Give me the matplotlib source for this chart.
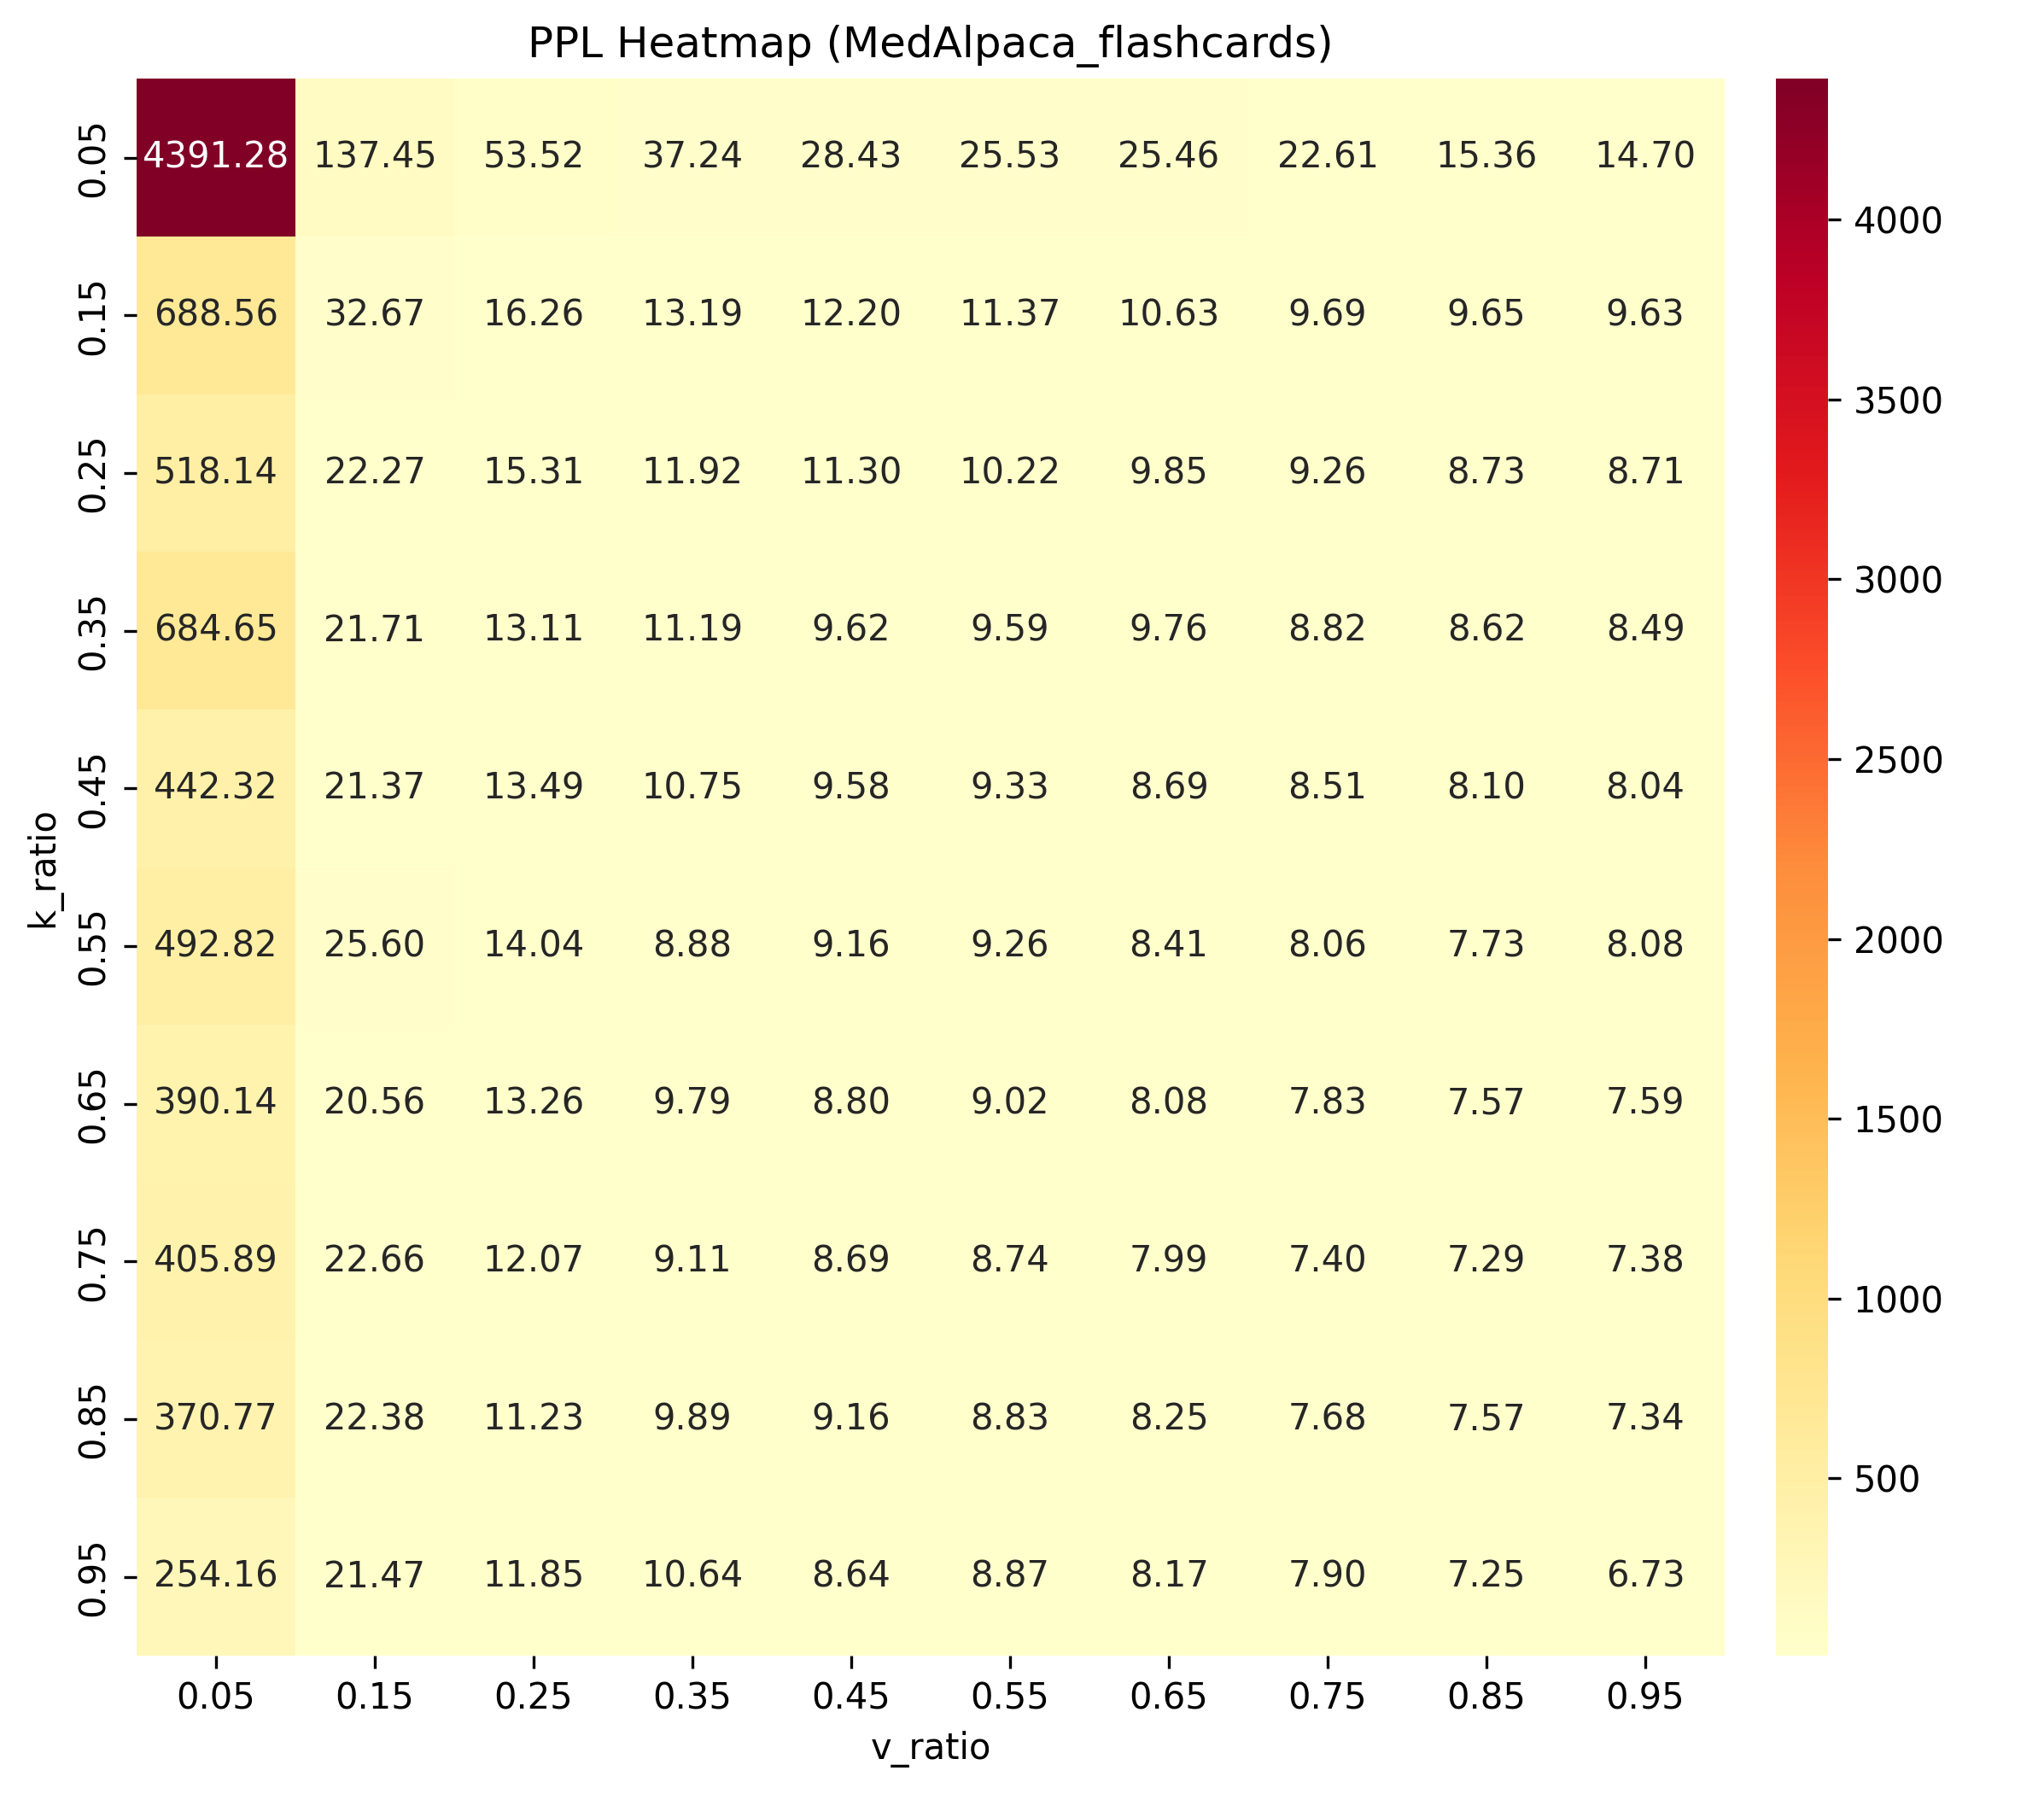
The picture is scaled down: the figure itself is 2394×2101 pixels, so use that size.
import matplotlib
matplotlib.use("Agg")
import matplotlib.pyplot as plt
import seaborn as sns
import numpy as np

k_ratio = ["0.05", "0.15", "0.25", "0.35", "0.45", "0.55", "0.65", "0.75", "0.85", "0.95"]
v_ratio = ["0.05", "0.15", "0.25", "0.35", "0.45", "0.55", "0.65", "0.75", "0.85", "0.95"]

row_005 = [4391.28, 137.45, 53.52, 37.24, 28.43, 25.53, 25.46, 22.61, 15.36, 14.70]
row_015 = [688.56, 32.67, 16.26, 13.19, 12.20, 11.37, 10.63, 9.69, 9.65, 9.63]
row_025 = [518.14, 22.27, 15.31, 11.92, 11.30, 10.22, 9.85, 9.26, 8.73, 8.71]
row_035 = [684.65, 21.71, 13.11, 11.19, 9.62, 9.59, 9.76, 8.82, 8.62, 8.49]
row_045 = [442.32, 21.37, 13.49, 10.75, 9.58, 9.33, 8.69, 8.51, 8.10, 8.04]
row_055 = [492.82, 25.60, 14.04, 8.88, 9.16, 9.26, 8.41, 8.06, 7.73, 8.08]
row_065 = [390.14, 20.56, 13.26, 9.79, 8.80, 9.02, 8.08, 7.83, 7.57, 7.59]
row_075 = [405.89, 22.66, 12.07, 9.11, 8.69, 8.74, 7.99, 7.40, 7.29, 7.38]
row_085 = [370.77, 22.38, 11.23, 9.89, 9.16, 8.83, 8.25, 7.68, 7.57, 7.34]
row_095 = [254.16, 21.47, 11.85, 10.64, 8.64, 8.87, 8.17, 7.90, 7.25, 6.73]

data = np.array([row_005, row_015, row_025, row_035, row_045,
                 row_055, row_065, row_075, row_085, row_095])

fig = plt.figure(figsize=(2394 / 300, 2101 / 300), dpi=300)
ax = fig.add_axes([0.0668, 0.0771, 0.777, 0.8789])
cax = fig.add_axes([0.869, 0.0771, 0.0255, 0.8789])

sns.heatmap(data, annot=True, fmt=".2f", cmap="YlOrRd",
            xticklabels=v_ratio, yticklabels=k_ratio,
            ax=ax, cbar_ax=cax)

ax.set_title("PPL Heatmap (MedAlpaca_flashcards)")
ax.set_xlabel("v_ratio")
ax.set_ylabel("k_ratio")

fig.savefig("out.png", dpi=300)
